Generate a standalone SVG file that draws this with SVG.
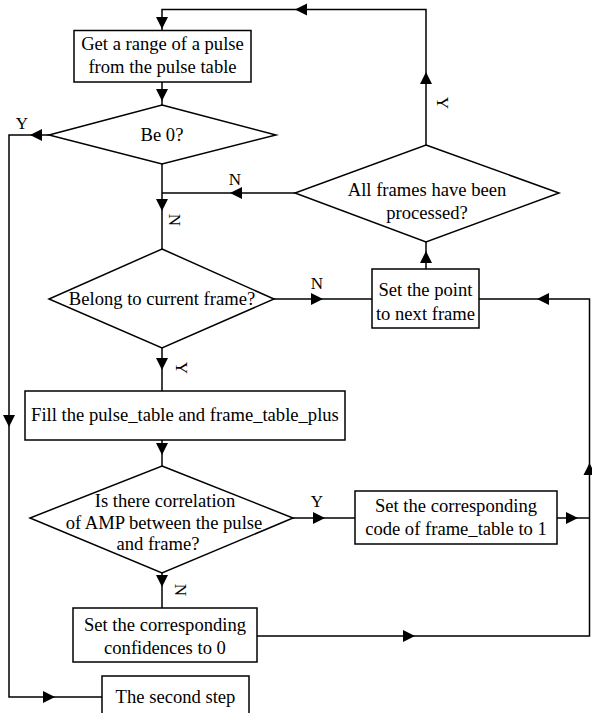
<svg xmlns="http://www.w3.org/2000/svg" xmlns:xlink="http://www.w3.org/1999/xlink" width="592" height="713" viewBox="0 0 592 713">
<style>
.box{fill:#fff;stroke:#000;stroke-width:1.5}
.ln{fill:none;stroke:#000;stroke-width:1.5}
text{font-family:"Liberation Serif","Times New Roman",serif;font-size:18.6px;fill:#000;text-anchor:middle}
.lbl{font-size:17px}
</style>
<defs>
<path id="ah" d="M0,0 L-12,-6 L-12,6 Z" fill="#000"/>
</defs>
<rect width="592" height="713" fill="#fff"/>
<g id="connectors">
<polyline class="ln" points="426,145 426,9.5 162,9.5 162,30"/>
<line class="ln" x1="162" y1="82" x2="162" y2="105"/>
<polyline class="ln" points="49,135 9,135 9,697 102,697"/>
<line class="ln" x1="162" y1="164" x2="162" y2="249"/>
<line class="ln" x1="295" y1="193" x2="162" y2="193"/>
<line class="ln" x1="426" y1="269" x2="426" y2="242"/>
<line class="ln" x1="274" y1="299" x2="372" y2="299"/>
<polyline class="ln" points="479,299 589.5,299 589.5,636 257,636"/>
<line class="ln" x1="162" y1="348" x2="162" y2="391"/>
<line class="ln" x1="162" y1="440" x2="162" y2="466"/>
<line class="ln" x1="293" y1="518" x2="355" y2="518"/>
<line class="ln" x1="557" y1="518" x2="589.5" y2="518"/>
<line class="ln" x1="162" y1="573" x2="162" y2="608"/>
<use xlink:href="#ah" transform="translate(295,9.5) rotate(180)"/>
<use xlink:href="#ah" transform="translate(162,29) rotate(90)"/>
<use xlink:href="#ah" transform="translate(162,101) rotate(90)"/>
<use xlink:href="#ah" transform="translate(30,135) rotate(180)"/>
<use xlink:href="#ah" transform="translate(230,193) rotate(180)"/>
<use xlink:href="#ah" transform="translate(162,211) rotate(90)"/>
<use xlink:href="#ah" transform="translate(426,72) rotate(-90)"/>
<use xlink:href="#ah" transform="translate(426,251) rotate(-90)"/>
<use xlink:href="#ah" transform="translate(323,299)"/>
<use xlink:href="#ah" transform="translate(537,299) rotate(180)"/>
<use xlink:href="#ah" transform="translate(162,370) rotate(90)"/>
<use xlink:href="#ah" transform="translate(9,427) rotate(90)"/>
<use xlink:href="#ah" transform="translate(162,455) rotate(90)"/>
<use xlink:href="#ah" transform="translate(325,518)"/>
<use xlink:href="#ah" transform="translate(578,518)"/>
<use xlink:href="#ah" transform="translate(589.5,463) rotate(-90)"/>
<use xlink:href="#ah" transform="translate(162,587) rotate(90)"/>
<use xlink:href="#ah" transform="translate(415,636)"/>
<use xlink:href="#ah" transform="translate(55,697)"/>
<text class="lbl" x="22" y="129">Y</text>
<text class="lbl" x="235" y="185">N</text>
<text class="lbl" transform="translate(169,220) rotate(90)">N</text>
<text class="lbl" transform="translate(437,103) rotate(90)">Y</text>
<text class="lbl" x="317" y="289">N</text>
<text class="lbl" transform="translate(176,368) rotate(90)">Y</text>
<text class="lbl" x="317" y="507">Y</text>
<text class="lbl" transform="translate(175,590) rotate(90)">N</text>
</g>
<g id="n1">
<rect class="box" x="74" y="30.5" width="177" height="51.5"/>
<text x="162.5" y="50">Get a range of a pulse</text>
<text x="162.5" y="73">from the pulse table</text>
</g>
<g id="n2">
<polygon class="box" points="162,105 276,135 162,164 49,135"/>
<text x="162" y="141">Be 0?</text>
</g>
<g id="n3">
<polygon class="box" points="426,145 559,193 426,242 295,193"/>
<text x="427" y="196">All frames have been</text>
<text x="427" y="219">processed?</text>
</g>
<g id="n4">
<rect class="box" x="372" y="269" width="107" height="59"/>
<text x="425.5" y="296">Set the point</text>
<text x="425.5" y="320">to next frame</text>
</g>
<g id="n5">
<polygon class="box" points="162,249 274,299 162,348 49,299"/>
<text x="162" y="305">Belong to current frame?</text>
</g>
<g id="n6">
<rect class="box" x="25" y="391" width="320" height="49"/>
<text x="185" y="421">Fill the pulse_table and frame_table_plus</text>
</g>
<g id="n7">
<polygon class="box" points="162,466 293,518 162,573 30,518"/>
<text x="165" y="507">Is there correlation</text>
<text x="164" y="529">of AMP between the pulse</text>
<text x="158" y="550">and frame?</text>
</g>
<g id="n8">
<rect class="box" x="355" y="491" width="202" height="53"/>
<text x="456" y="512">Set the corresponding</text>
<text x="456" y="535">code of frame_table to 1</text>
</g>
<g id="n9">
<rect class="box" x="73" y="608" width="184" height="54"/>
<text x="165" y="631">Set the corresponding</text>
<text x="165" y="654">confidences to 0</text>
</g>
<g id="n10">
<rect class="box" x="102" y="676" width="147" height="45"/>
<text x="175.5" y="703">The second step</text>
</g>
</svg>
